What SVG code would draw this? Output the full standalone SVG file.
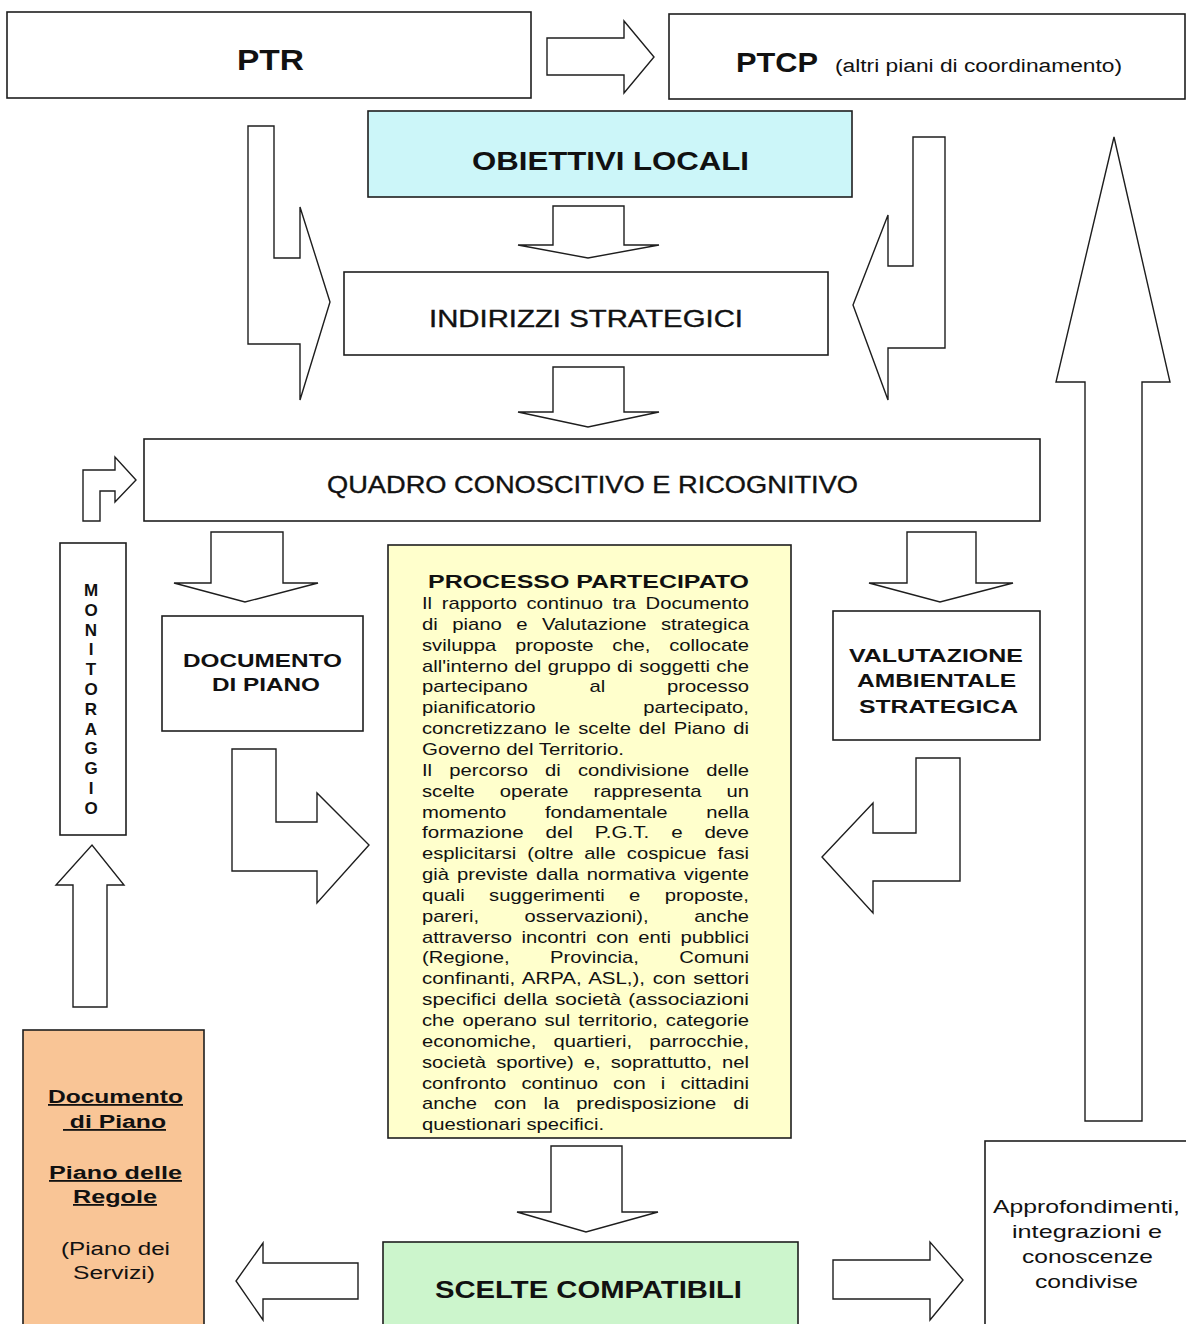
<svg xmlns="http://www.w3.org/2000/svg" width="1186" height="1324" viewBox="0 0 1186 1324">
<style>
.box{fill:#fff;stroke:#1e1e1e;stroke-width:1.6}
.arr{fill:#fff;stroke:#1e1e1e;stroke-width:1.4;stroke-linejoin:miter}
.t{font-family:"Liberation Sans",Arial,sans-serif;fill:#111}
.b{font-weight:bold}
.m{stroke:#111;stroke-width:0.35}
.body{font-family:"Liberation Sans",Arial,sans-serif;font-size:17px;fill:#111}
</style>
<rect x="0" y="0" width="1186" height="1324" fill="#fff"/>
<g id="connectors">
<polygon class="arr" points="547,38 624,38 624,21 654,57 624,93 624,75 547,75"/>
<polygon class="arr" points="553,206 624,206 624,245 659,245 588,258 518,245 553,245"/>
<polygon class="arr" points="553,367 624,367 624,412 659,412 588,427 518,412 553,412"/>
<polygon class="arr" points="248,126 274,126 274,258 300,258 300,207 330,302 300,400 300,344 248,344"/>
<polygon class="arr" points="945,137 913,137 913,266 888,266 888,215 853,305 888,400 888,348 945,348"/>
<polygon class="arr" points="1085,1121 1085,382 1056,382 1114,137 1170,382 1142,382 1142,1121"/>
<polygon class="arr" points="83,521 83,470 115,470 115,457 136,480 115,502 115,491 100,491 100,521"/>
<polygon class="arr" points="211,532 283,532 283,583 318,583 245,602 174,583 211,583"/>
<polygon class="arr" points="907,532 976,532 976,583 1013,583 940,602 869,583 907,583"/>
<polygon class="arr" points="232,749 276,749 276,822 317,822 317,793 369,845 317,903 317,871 232,871"/>
<polygon class="arr" points="960,758 916,758 916,833 873,833 873,803 822,857 873,913 873,881 960,881"/>
<polygon class="arr" points="73,1007 73,885 56,885 92,845 124,885 107,885 107,1007"/>
<polygon class="arr" points="551,1146 622,1146 622,1212 658,1212 586,1232 517,1212 551,1212"/>
<polygon class="arr" points="358,1263 263,1263 263,1243 236,1281 263,1320 263,1299 358,1299"/>
<polygon class="arr" points="833,1260 930,1260 930,1242 963,1280 930,1320 930,1299 833,1299"/>
</g>
<g id="ptr">
<rect class="box" x="7" y="12" width="524" height="86"/>
<text class="t b" x="237" y="70" font-size="30" textLength="67" lengthAdjust="spacingAndGlyphs">PTR</text>
</g>
<g id="ptcp">
<rect class="box" x="669" y="14" width="516" height="85"/>
<text class="t b" x="736" y="72" font-size="28" textLength="82" lengthAdjust="spacingAndGlyphs">PTCP</text>
<text class="t" x="835" y="72" font-size="18" fill="#222" textLength="287" lengthAdjust="spacingAndGlyphs">(altri piani di coordinamento)</text>
</g>
<g id="obiettivi">
<rect class="box" x="368" y="111" width="484" height="86" style="fill:#CCF6F9"/>
<text class="t b" x="472" y="170" font-size="25" textLength="277" lengthAdjust="spacingAndGlyphs">OBIETTIVI LOCALI</text>
</g>
<g id="indirizzi">
<rect class="box" x="344" y="272" width="484" height="83"/>
<text class="t m" x="429" y="327" font-size="23" textLength="314" lengthAdjust="spacingAndGlyphs">INDIRIZZI STRATEGICI</text>
</g>
<g id="quadro">
<rect class="box" x="144" y="439" width="896" height="82"/>
<text class="t m" x="327" y="493" font-size="24" textLength="531" lengthAdjust="spacingAndGlyphs">QUADRO CONOSCITIVO E RICOGNITIVO</text>
</g>
<g id="monitoraggio">
<rect class="box" x="60" y="543" width="66" height="292"/>
<g class="t b" font-size="17" text-anchor="middle">
<text x="91" y="596">M</text><text x="91" y="615.8">O</text><text x="91" y="635.6">N</text><text x="91" y="655.4">I</text><text x="91" y="675.2">T</text><text x="91" y="695">O</text><text x="91" y="714.8">R</text><text x="91" y="734.6">A</text><text x="91" y="754.4">G</text><text x="91" y="774.2">G</text><text x="91" y="794">I</text><text x="91" y="813.8">O</text>
</g>
</g>
<g id="documento">
<rect class="box" x="162" y="616" width="201" height="115"/>
<text class="t b" x="183" y="667" font-size="19" textLength="159" lengthAdjust="spacingAndGlyphs">DOCUMENTO</text>
<text class="t b" x="212" y="691" font-size="19" textLength="108" lengthAdjust="spacingAndGlyphs">DI PIANO</text>
</g>
<g id="vas">
<rect class="box" x="833" y="611" width="207" height="129"/>
<text class="t b" x="849" y="662" font-size="19" textLength="174" lengthAdjust="spacingAndGlyphs">VALUTAZIONE</text>
<text class="t b" x="857" y="687" font-size="19" textLength="159" lengthAdjust="spacingAndGlyphs">AMBIENTALE</text>
<text class="t b" x="859" y="713" font-size="19" textLength="159" lengthAdjust="spacingAndGlyphs">STRATEGICA</text>
</g>
<g id="processo">
<rect class="box" x="388" y="545" width="403" height="593" style="fill:#FFFFCC"/>
<text class="t b" x="428" y="588" font-size="18" textLength="321" lengthAdjust="spacingAndGlyphs">PROCESSO PARTECIPATO</text>
<g class="body">
<text x="422" y="609" word-spacing="3.3" textLength="327" lengthAdjust="spacingAndGlyphs">Il rapporto continuo tra Documento</text>
<text x="422" y="629.85" word-spacing="7.3" textLength="327" lengthAdjust="spacingAndGlyphs">di piano e Valutazione strategica</text>
<text x="422" y="650.7" word-spacing="11" textLength="327" lengthAdjust="spacingAndGlyphs">sviluppa proposte che, collocate</text>
<text x="422" y="671.55" word-spacing="0.6" textLength="327" lengthAdjust="spacingAndGlyphs">all'interno del gruppo di soggetti che</text>
<text x="422" y="692.4" word-spacing="47.2" textLength="327" lengthAdjust="spacingAndGlyphs">partecipano al processo</text>
<text x="422" y="713.25" word-spacing="85.8" textLength="327" lengthAdjust="spacingAndGlyphs">pianificatorio partecipato,</text>
<text x="422" y="734.1" word-spacing="1.9" textLength="327" lengthAdjust="spacingAndGlyphs">concretizzano le scelte del Piano di</text>
<text x="422" y="754.95" textLength="202" lengthAdjust="spacingAndGlyphs">Governo del Territorio.</text>
<text x="422" y="775.8" word-spacing="9.7" textLength="327" lengthAdjust="spacingAndGlyphs">Il percorso di condivisione delle</text>
<text x="422" y="796.65" word-spacing="16.3" textLength="327" lengthAdjust="spacingAndGlyphs">scelte operate rappresenta un</text>
<text x="422" y="817.5" word-spacing="27.8" textLength="327" lengthAdjust="spacingAndGlyphs">momento fondamentale nella</text>
<text x="422" y="838.35" word-spacing="13.4" textLength="327" lengthAdjust="spacingAndGlyphs">formazione del P.G.T. e deve</text>
<text x="422" y="859.2" word-spacing="4.5" textLength="327" lengthAdjust="spacingAndGlyphs">esplicitarsi (oltre alle cospicue fasi</text>
<text x="422" y="880.05" word-spacing="2.1" textLength="327" lengthAdjust="spacingAndGlyphs">già previste dalla normativa vigente</text>
<text x="422" y="900.9" word-spacing="15.7" textLength="327" lengthAdjust="spacingAndGlyphs">quali suggerimenti e proposte,</text>
<text x="422" y="921.75" word-spacing="33.9" textLength="327" lengthAdjust="spacingAndGlyphs">pareri, osservazioni), anche</text>
<text x="422" y="942.6" word-spacing="3.3" textLength="327" lengthAdjust="spacingAndGlyphs">attraverso incontri con enti pubblici</text>
<text x="422" y="963.45" word-spacing="29.2" textLength="327" lengthAdjust="spacingAndGlyphs">(Regione, Provincia, Comuni</text>
<text x="422" y="984.3" word-spacing="1.6" textLength="327" lengthAdjust="spacingAndGlyphs">confinanti, ARPA, ASL,), con settori</text>
<text x="422" y="1005.15" word-spacing="1.2" textLength="327" lengthAdjust="spacingAndGlyphs">specifici della società (associazioni</text>
<text x="422" y="1026" word-spacing="1.9" textLength="327" lengthAdjust="spacingAndGlyphs">che operano sul territorio, categorie</text>
<text x="422" y="1046.85" word-spacing="9.9" textLength="327" lengthAdjust="spacingAndGlyphs">economiche, quartieri, parrocchie,</text>
<text x="422" y="1067.7" word-spacing="3.7" textLength="327" lengthAdjust="spacingAndGlyphs">società sportive) e, soprattutto, nel</text>
<text x="422" y="1088.55" word-spacing="8" textLength="327" lengthAdjust="spacingAndGlyphs">confronto continuo con i cittadini</text>
<text x="422" y="1109.4" word-spacing="9.6" textLength="327" lengthAdjust="spacingAndGlyphs">anche con la predisposizione di</text>
<text x="422" y="1130.25" textLength="182" lengthAdjust="spacingAndGlyphs">questionari specifici.</text>
</g>
</g>
<g id="piani">
<rect class="box" x="23" y="1030" width="181" height="300" style="fill:#F9C596"/>
<g class="t b" font-size="18" text-decoration="underline">
<text x="48" y="1103" textLength="135" lengthAdjust="spacingAndGlyphs">Documento</text>
<text x="63" y="1128" textLength="103" lengthAdjust="spacingAndGlyphs" style="white-space:pre"> di Piano</text>
<text x="49" y="1179" textLength="133" lengthAdjust="spacingAndGlyphs">Piano delle</text>
<text x="73" y="1203" textLength="84" lengthAdjust="spacingAndGlyphs">Regole</text>
</g>
<text class="t" x="61" y="1255" font-size="18" fill="#333" textLength="109" lengthAdjust="spacingAndGlyphs">(Piano dei</text>
<text class="t" x="73" y="1279" font-size="18" fill="#333" textLength="82" lengthAdjust="spacingAndGlyphs">Servizi)</text>
</g>
<g id="scelte">
<rect class="box" x="383" y="1242" width="415" height="90" style="fill:#CCF5CC"/>
<text class="t b" x="435" y="1298" font-size="23" textLength="307" lengthAdjust="spacingAndGlyphs">SCELTE COMPATIBILI</text>
</g>
<g id="approfondimenti">
<rect class="box" x="985" y="1141" width="210" height="190"/>
<g class="t" font-size="19" fill="#333">
<text x="993" y="1213" textLength="187" lengthAdjust="spacingAndGlyphs">Approfondimenti,</text>
<text x="1012" y="1238" textLength="150" lengthAdjust="spacingAndGlyphs">integrazioni e</text>
<text x="1022" y="1263" textLength="131" lengthAdjust="spacingAndGlyphs">conoscenze</text>
<text x="1035" y="1288" textLength="103" lengthAdjust="spacingAndGlyphs">condivise</text>
</g>
</g>
</svg>
